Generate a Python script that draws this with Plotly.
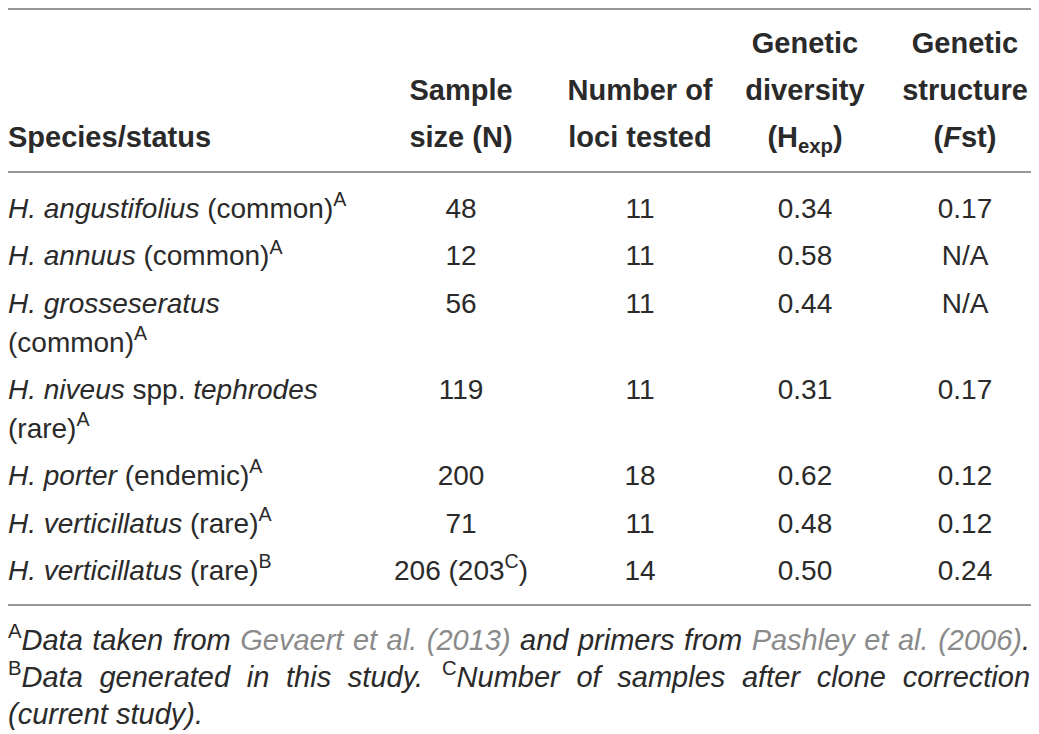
import plotly.graph_objects as go

# ---- table content ---------------------------------------------------------
species_line1 = [
    "<i>H. angustifolius</i> (common)<sup>A</sup>",
    "<i>H. annuus</i> (common)<sup>A</sup>",
    "<i>H. grosseseratus</i>",
    "<i>H. niveus</i> spp. <i>tephrodes</i>",
    "<i>H. porter</i> (endemic)<sup>A</sup>",
    "<i>H. verticillatus</i> (rare)<sup>A</sup>",
    "<i>H. verticillatus</i> (rare)<sup>B</sup>",
]
species_line2 = ["", "", "(common)<sup>A</sup>", "(rare)<sup>A</sup>", "", "", ""]
sample_size = ["48", "12", "56", "119", "200", "71", "206 (203<sup>C</sup>)"]
loci_tested = [11, 11, 11, 11, 18, 11, 14]
h_exp = [0.34, 0.58, 0.44, 0.31, 0.62, 0.48, 0.50]
fst = ["0.17", "N/A", "N/A", "0.17", "0.12", "0.12", "0.24"]

species_header = ["Species/status"]
value_headers = [
    ["Sample", "size (N)"],
    ["Number of", "loci tested"],
    ["Genetic", "diversity", "(H<sub>exp</sub>)"],
    ["Genetic", "structure", "(<i>F</i>st)"],
]

# footnotes: each word is a list of (text, kind) segments
footnote_lines = [
    [[("A", "sup"), ("Data", "txt")], [("taken", "txt")], [("from", "txt")],
     [("Gevaert", "link")], [("et", "link")], [("al.", "link")], [("(2013)", "link")],
     [("and", "txt")], [("primers", "txt")], [("from", "txt")],
     [("Pashley", "link")], [("et", "link")], [("al.", "link")],
     [("(2006)", "link"), (".", "txt")]],
    [[("B", "sup"), ("Data", "txt")], [("generated", "txt")], [("in", "txt")],
     [("this", "txt")], [("study.", "txt")], [("C", "sup"), ("Number", "txt")],
     [("of", "txt")], [("samples", "txt")], [("after", "txt")], [("clone", "txt")],
     [("correction", "txt")]],
    [[("(current", "txt")], [("study).", "txt")]],
]
justify = [True, True, False]

# ---- layout constants ------------------------------------------------------
W, H = 1039, 734
PAGE_OFFSET = 8  # the page body margin pushes the figure 8px right/down
FONT = "Liberation Sans, Arial, sans-serif"
INK = "#2a2a2a"
LINK = "#8a8a8a"
RULE = "#737373"
BODY_SIZE = 28
HEAD_SIZE = 29
NOTE_SIZE = 29

X_LEFT = 8
X_RIGHT = 1030
COL_X = [461, 640, 805, 965]
HEAD_Y = [46, 93, 140]
RULES_Y = [9, 172, 605]
ROW_TOP = 211
ROW_PITCH = 47.3
WRAP_GAP = 39
NOTE_Y = [643, 680, 717]

# Arial / Liberation Sans advance widths (1/1000 em)
ARIAL = {
    "a": 556, "b": 556, "c": 500, "d": 556, "e": 556, "f": 278, "g": 556, "h": 556,
    "i": 222, "j": 222, "k": 500, "l": 222, "m": 833, "n": 556, "o": 556, "p": 556,
    "q": 556, "r": 333, "s": 500, "t": 278, "u": 556, "v": 500, "w": 722, "x": 500,
    "y": 500, "z": 500, "A": 667, "B": 667, "C": 722, "D": 722, "G": 778, "N": 722,
    "P": 667, "H": 722, ".": 278, "(": 333, ")": 333, " ": 278, "/": 278,
}


def seg_width(text, kind, size):
    scale = 0.7 if kind == "sup" else 1.0
    return sum(ARIAL.get(c, 556) for c in text) * size * scale / 1000


def word_html(word):
    out = ""
    for text, kind in word:
        if kind == "sup":
            out += f"<sup>{text}</sup>"
        elif kind == "link":
            out += f"<span style='color:{LINK}'><i>{text}</i></span>"
        else:
            out += f"<i>{text}</i>"
    return out


# row positions from line counts
row_y = []
y = ROW_TOP
for line2 in species_line2:
    row_y.append(y)
    y += ROW_PITCH + (WRAP_GAP if line2 else 0)

fig = go.Figure()


def add_text(xs, ys, texts, pos, size, color=INK):
    fig.add_trace(go.Scatter(
        x=xs, y=ys, text=texts, mode="text", textposition=pos,
        textfont=dict(family=FONT, size=size, color=color),
        hoverinfo="skip", showlegend=False,
    ))


# header
add_text([X_LEFT], [HEAD_Y[-1]], [f"<b>{species_header[0]}</b>"], "middle right", HEAD_SIZE)
for cx, lines in zip(COL_X, value_headers):
    ys = HEAD_Y[-len(lines):]
    add_text([cx] * len(lines), ys, [f"<b>{t}</b>" for t in lines], "middle center", HEAD_SIZE)

# body
add_text([X_LEFT] * len(row_y), row_y, species_line1, "middle right", BODY_SIZE)
wrapped = [(ry + WRAP_GAP, t) for ry, t in zip(row_y, species_line2) if t]
add_text([X_LEFT] * len(wrapped), [w[0] for w in wrapped], [w[1] for w in wrapped],
         "middle right", BODY_SIZE)
columns = [sample_size, [str(v) for v in loci_tested], [f"{v:.2f}" for v in h_exp], fst]
for cx, vals in zip(COL_X, columns):
    add_text([cx] * len(vals), row_y, vals, "middle center", BODY_SIZE)

# footnotes (first two lines justified to the table width)
for ny, words, just in zip(NOTE_Y, footnote_lines, justify):
    widths = [sum(seg_width(t, k, NOTE_SIZE) for t, k in w) for w in words]
    space = ARIAL[" "] * NOTE_SIZE / 1000
    if just and len(words) > 1:
        space = (X_RIGHT - X_LEFT - sum(widths)) / (len(words) - 1)
    xs, x = [], X_LEFT
    for w in widths:
        xs.append(x)
        x += w + space
    add_text(xs, [ny] * len(words), [word_html(w) for w in words], "middle right", NOTE_SIZE)

for ry in RULES_Y:
    fig.add_shape(type="line", x0=5, x1=X_RIGHT + 2, y0=ry, y1=ry,
                  xref="x", yref="y", line=dict(color=RULE, width=1.5))

fig.update_layout(
    width=W, height=H,
    margin=dict(l=0, r=0, t=0, b=0),
    paper_bgcolor="white", plot_bgcolor="white",
    xaxis=dict(range=[PAGE_OFFSET, W + PAGE_OFFSET], visible=False, fixedrange=True),
    yaxis=dict(range=[H + PAGE_OFFSET, PAGE_OFFSET], visible=False, fixedrange=True),
)

fig.write_html("out.html")
